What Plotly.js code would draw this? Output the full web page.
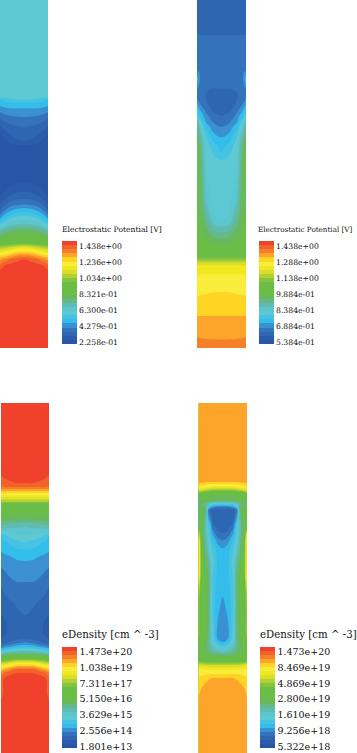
<!DOCTYPE html>
<html><head><meta charset="utf-8">
<script src="https://cdn.plot.ly/plotly-3.0.1.min.js"></script>
<style>html,body{margin:0;padding:0;background:#fff}#c{width:357px;height:753px}</style>
</head><body><div id="c"></div>
<script>
// Legend band colours, bottom to top
const bandColors=['#2855a5','#2a5cab','#2e66b2','#3473bb','#3a90d0','#32bdeb','#45c3e2','#5ec8d3','#5cc6cf','#60bcb0','#65b88a','#67b95a','#6abd45','#6abd45','#6abd45','#86c440','#b0d136','#d9de2a','#f1e81f','#f8ed3a','#ffd423','#fca52a','#f6802a','#f2622a','#ef412b'];

// Half-width positions across the device (the device is mirror symmetric)
const xHalf=[0,3,9,16,24];
const xHalf4=[0,3,7,10,14,19,24];

const y1=[0,90,97,100,104,108,112,116,120,126,132,141,146,160,175,183,190,198,205,210,216,222,226,230,236,244,248,252,256,260,266,272,349];
const lev1=[[7.5,7.5,7.5,7.5,7.5],[7.5,7.5,7.5,7.5,7.5],[7.4,7.4,7.5,7.5,7.5],[5.8,6.1,6.6,6.9,7.0],[5.3,5.5,5.8,5.9,5.6],[4.7,4.9,5.1,5.1,5.05],[4.1,4.3,4.5,4.6,4.6],[3.5,3.7,4,4.1,4.15],[2.85,3.1,3.4,3.6,3.7],[1.9,2.3,2.8,3,3.1],[0.9,1.7,2.2,2.5,2.6],[0.5,0.7,1.3,1.9,2.0],[0.4,0.5,0.7,0.9,0.95],[0.4,0.5,0.5,0.5,0.5],[0.4,0.5,0.6,0.7,0.8],[0.4,0.5,0.7,0.9,1.0],[0.4,0.7,1.2,1.6,1.7],[1.0,1.4,2.2,2.6,2.7],[2,2.6,3.4,3.8,4.0],[2.7,3.5,4.5,5.1,5.3],[4.0,4.9,5.9,6.7,7.0],[5.6,6.6,7.7,8.2,8.4],[7,8,8.7,9.2,9.4],[9,9.7,10.4,10.9,11],[11.2,11.4,11.8,12,12.1],[14,14,14.2,14.5,14.8],[16.2,16.4,16.8,17.5,18],[18,18.3,19,19.8,20],[20,20.2,20.8,21.8,22],[21.6,22,22.8,23.6,24],[23.2,23.8,24.3,24.5,24.5],[24.2,24.5,24.5,24.5,24.5],[24.5,24.5,24.5,24.5,24.5]];

const y2=[0,33,40,70,73,80,87,90,95,100,104,110,116,123,127,133,138,146,155,162,175,190,205,215,222,228,235,242,250,257,260,263,266,275,293,300,317,338,341,349];
const lev2=[[2.5,2.5,2.5,2.5,2.5],[2.9,2.8,2.8,2.8,2.8],[3.4,3.4,3.4,3.4,3.4],[3.6,3.5,3.5,3.5,3.5],[4.8,3.8,3.5,3.5,3.5],[5.5,4.0,3.5,3.5,3.5],[4.5,3.6,3.4,3.3,3.3],[3.8,3.5,3.2,2.8,2.8],[3.8,3.4,2.9,2.5,2.5],[4.2,3.5,3.0,2.5,2.5],[5.0,4.0,3.1,2.6,2.5],[6.5,5.0,3.6,2.8,2.5],[7.5,6,4.3,3.3,3.0],[10,7.6,5.0,4,3.7],[11.2,8.4,5.7,4.4,4.0],[11.5,9.2,6.5,5.0,4.5],[11.5,10,7,5.5,5.0],[11.5,11,7.5,6.5,5.5],[11.5,11.3,7.6,7,6.2],[11.5,11.5,7.8,7.5,7.2],[11.8,11.8,8,7.5,7.5],[12,12,8.5,7.5,7.5],[12,12,9.2,7.8,7.5],[12,12,10,8.0,7.6],[12.2,12,10.6,8.6,8.0],[12.5,12.2,11,9.6,9.1],[12.5,12.3,11.5,10.7,10.3],[12.8,12.7,12.3,11.5,11.3],[13,13,13,13,13],[14.5,14.5,14.5,14.5,14.5],[15.5,15.5,15.5,15.5,15.5],[17,17,17,17,17],[18,18,18,18,18],[18.9,19,19,19,19],[19.7,19.75,19.9,20,20],[20.2,20.3,20.3,20.4,20.4],[21,21,21,21,21],[22,21.9,21.8,21.7,21.7],[22.3,22.2,22.1,22.1,22.05],[22.8,22.8,22.8,22.8,22.8]];

const y3=[0,70,72,80,84,88,92,99,100,106,117,119,124,132,140,147,158,165,179,190,200,212,222,232,236,240,244,248,251,255,258,260,263,266,270,275,290,300,350];
const lev3=[[24.5,24.5,24.5,24.5,24.5],[24.5,24.5,24.5,24.5,24.5],[24,24.3,24.5,24.5,24.5],[23.2,23.5,23.8,24,24],[22.9,23,23,23,23],[21,21,21,21,21],[19,19,19,19,19],[16,16,16,16,16],[15,15,15,15,15],[13,13,13,13,13],[11.5,11.3,11.2,11.1,11.1],[11,10.7,10.4,10.2,10.2],[9.5,9.5,9.3,9.2,9.0],[6.0,6.8,7.5,7.9,8.0],[5.6,5.7,6.1,6.5,6.9],[5.1,5.2,5.5,5.9,6.0],[4.5,4.6,4.6,4.9,5.0],[4.0,4.1,4.4,4.6,4.7],[3.2,3.5,3.8,4,4.0],[2.6,3,3.5,3.7,3.7],[2.3,2.5,2.8,3.2,3.4],[2,2.1,2.3,2.7,3.0],[1.5,1.8,2.2,2.4,2.5],[1.6,1.9,2.2,2.4,2.5],[2,2.2,2.5,2.8,2.9],[2.5,2.8,3.3,3.9,4.3],[4,4.6,5,5.6,6],[6.5,7,8,8.8,9],[10,10.4,11,11,11],[13,13,13.5,14,14],[15,15.5,16,17,17],[17,17,18,19,19],[19,19,20,21,21],[20.5,21,22,23,23],[22.5,23,23.7,24,24],[23.3,24,24.4,24.5,24.5],[23.5,24.2,24.5,24.5,24.5],[24.2,24.5,24.5,24.5,24.5],[24.5,24.5,24.5,24.5,24.5]];

const y4=[0,60,79,84,87,90,95,98,100,102,104,107,115,120,125,130,138,145,160,172,185,194,205,220,230,236,239,244,249,252,258,262,267,275,285,295,350];
const lev4=[[21.5,21.5,21.5,21.5,21.5,21.5,21.5],[21.6,21.5,21.5,21.5,21.5,21.5,21.5],[21.4,21.3,21.15,21.05,21,21,21],[20,19.5,19.1,18.8,18.6,18.5,18.5],[18,17.5,17,16.5,16,16,16],[15.5,14.5,13.5,13,12.5,12.5,12.5],[12.5,12.5,12.2,12,11.6,11.5,11.5],[12,12,11.8,11.4,11,11,11],[11.5,11.2,10.8,9.5,8.5,8,8],[11.5,11,10.6,8,6.5,6,6],[12,11.5,11,7,4.5,3.8,3.6],[12.5,12,11,3.6,2.5,2.5,2.5],[12.5,12,10.5,5,2.6,2.5,2.5],[12.5,12,9.5,6.5,3,2.5,2.5],[15,12,9.5,7,3.8,2.7,2.5],[18,12.3,9.5,7.5,4.8,3.2,3.0],[21,12.5,10,8,6,4.6,4.1],[22,12.6,10.5,8.5,6.7,5.4,5.0],[22,13,11.5,10,7.5,5.8,5.6],[21.5,13,12,11,7,5.7,5.6],[18,13,12,11.3,6.6,5.6,5.4],[17,12.8,12,11.2,6.5,5.5,5.0],[16.5,12.6,12,11,6.5,5.3,4.6],[16.5,12.6,12,11,7.0,4.9,4.4],[16.5,12.5,12,10.8,7.2,4.5,4.2],[15,12.5,12,10.6,7.5,5,4.6],[15,12.5,11.8,10,8,5.8,4.9],[14.5,12.3,11.6,10.5,9,7.8,7],[14,12,11.5,11,10,9.4,9],[13.5,12.5,12.2,12,11.5,11.1,11],[15,14.5,14.2,14,14,14,14],[18,17.5,17.2,17,17,17,17],[19.5,19.3,19.1,19,19,19,19],[20,20.3,20.7,20.9,21,21,21],[20.5,21,21.3,21.4,21.5,21.5,21.5],[21,21.5,21.5,21.5,21.5,21.5,21.5],[21.5,21.5,21.5,21.5,21.5,21.5,21.5]];

// Legend labels, bottom to top
const ticks1=['2.258e-01','4.279e-01','6.300e-01','8.321e-01','1.034e+00','1.236e+00','1.438e+00'];
const ticks2=['5.384e-01','6.884e-01','8.384e-01','9.884e-01','1.138e+00','1.288e+00','1.438e+00'];
const ticks3=['1.801e+13','2.556e+14','3.629e+15','5.150e+16','7.311e+17','1.038e+19','1.473e+20'];
const ticks4=['5.322e+18','9.256e+18','1.610e+19','2.800e+19','4.869e+19','8.469e+19','1.473e+20'];
const tickLevels=[0.45,4.34,8.23,12.12,16.01,19.9,23.8];
const titlePotential='Electrostatic Potential [V]';
const titleDensity='eDensity [cm ^ -3]';

const W=357,H=753,N=bandColors.length;
const scale=[];
bandColors.forEach((c,i)=>{scale.push([i/N,c]);scale.push([(i+1)/N,c]);});

function panel(idx,xh,rows,lev,ticks,title,px0,px1,top,bot,barX,barTop,barLen,fs,titleX,titleY,tfs){
  const s=idx===1?'':idx;
  const mirror=r=>r.concat(r.slice(0,-1).reverse());
  const z=lev.map(mirror);
  const half=xh[xh.length-1];
  const x=xh.concat(xh.slice(0,-1).reverse().map(v=>2*half-v));
  return {trace:{type:'contour',x:x,y:rows,z:z,xaxis:'x'+s,yaxis:'y'+s,zmin:0,zmax:N,autocolorscale:false,colorscale:scale,
    autocontour:false,contours:{start:1,end:N-1,size:1,coloring:'fill',showlines:false},line:{width:0,smoothing:1},hoverinfo:'skip',
    colorbar:{x:barX/W,xanchor:'left',xref:'paper',y:1-barTop/H,yanchor:'top',yref:'paper',thickness:15,thicknessmode:'pixels',len:barLen,lenmode:'pixels',
      xpad:0,ypad:0,outlinewidth:0,borderwidth:0,ticks:'',tickmode:'array',tickvals:tickLevels,ticktext:ticks,ticklen:2,
      tickfont:{family:'DejaVu Serif',size:fs,color:'#111'}}},
    ax:{['xaxis'+s]:{domain:[px0/W,px1/W],range:[0,48],visible:false,fixedrange:true},
        ['yaxis'+s]:{domain:[1-bot/H,1-top/H],range:[350,0],visible:false,fixedrange:true}},
    ann:{text:title,xref:'paper',yref:'paper',x:titleX/W,y:1-titleY/H,xanchor:'left',yanchor:'middle',showarrow:false,borderpad:0,
         font:{family:'DejaVu Serif',size:tfs,color:'#111'}}};
}
const P=[
 panel(1,xHalf,y1,lev1,ticks1,titlePotential,0,48,0,349,62,241,103,7.7,60.5,230,7.6),
 panel(2,xHalf,y2,lev2,ticks2,titlePotential,197,246,0,349,259,241,103,7.7,257,230,7.2),
 panel(3,xHalf,y3,lev3,ticks3,titleDensity,1,49,403,753,62,647,101,9.5,60.5,634,10.2),
 panel(4,xHalf4,y4,lev4,ticks4,titleDensity,198.5,247,403,753,260,647,101,9.5,258.5,634,10.2)
];
const layout={width:W,height:H,margin:{l:0,r:0,t:0,b:0,autoexpand:false},paper_bgcolor:'#fff',plot_bgcolor:'#fff',showlegend:false,annotations:P.map(p=>p.ann)};
P.forEach(p=>Object.assign(layout,p.ax));
Plotly.newPlot('c',P.map(p=>p.trace),layout,{displayModeBar:false,staticPlot:true});
</script></body></html>
